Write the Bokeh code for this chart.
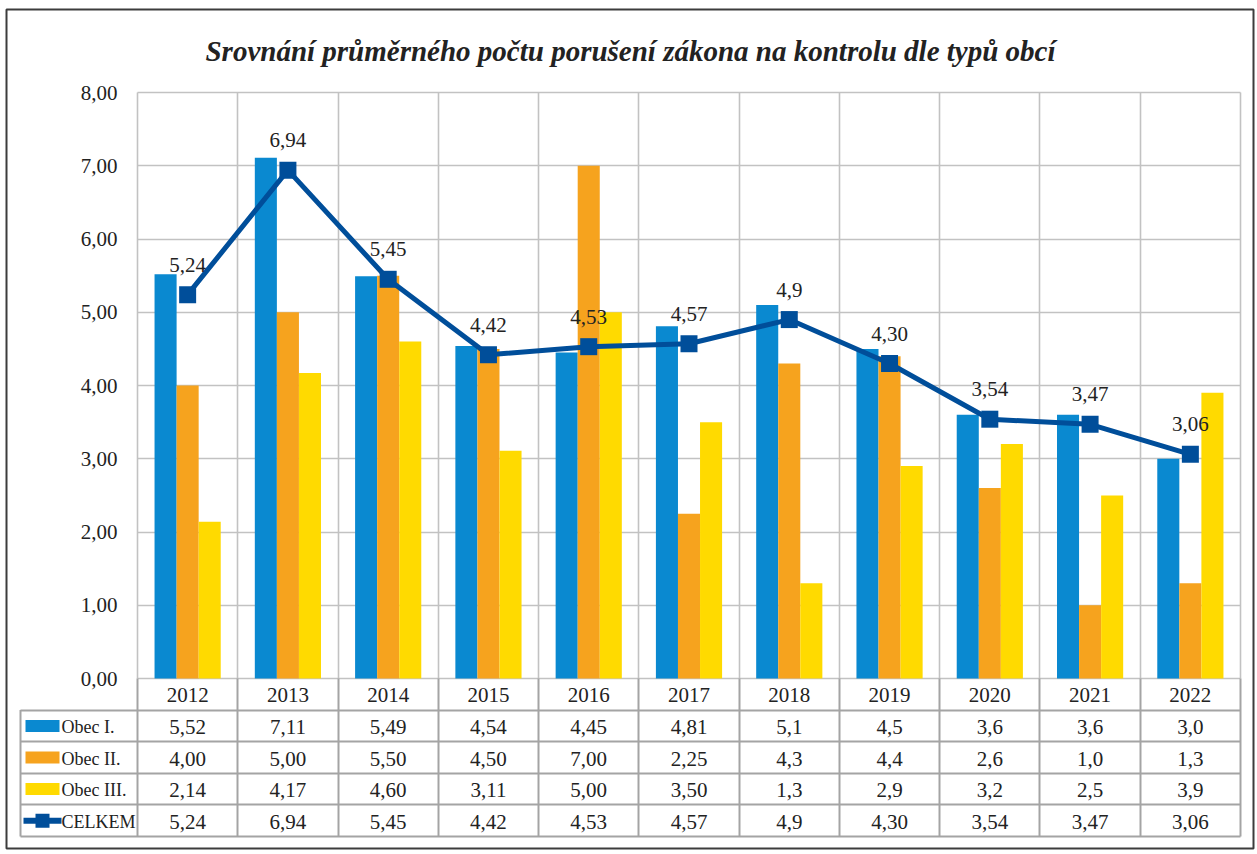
from bokeh.plotting import figure
from bokeh.models import Range1d, FixedTicker, CustomJSTickFormatter, ColumnDataSource, Grid
from bokeh.core.properties import value
from bokeh.transform import dodge
from bokeh.embed import file_html
from bokeh.resources import INLINE

# ---------------- data ----------------
years = ["2012", "2013", "2014", "2015", "2016", "2017", "2018", "2019", "2020", "2021", "2022"]
obec1 = [5.52, 7.11, 5.49, 4.54, 4.45, 4.81, 5.1, 4.5, 3.6, 3.6, 3.0]
obec2 = [4.00, 5.00, 5.50, 4.50, 7.00, 2.25, 4.3, 4.4, 2.6, 1.0, 1.3]
obec3 = [2.14, 4.17, 4.60, 3.11, 5.00, 3.50, 1.3, 2.9, 3.2, 2.5, 3.9]
celkem = [5.24, 6.94, 5.45, 4.42, 4.53, 4.57, 4.9, 4.30, 3.54, 3.47, 3.06]

obec1_txt = ["5,52", "7,11", "5,49", "4,54", "4,45", "4,81", "5,1", "4,5", "3,6", "3,6", "3,0"]
obec2_txt = ["4,00", "5,00", "5,50", "4,50", "7,00", "2,25", "4,3", "4,4", "2,6", "1,0", "1,3"]
obec3_txt = ["2,14", "4,17", "4,60", "3,11", "5,00", "3,50", "1,3", "2,9", "3,2", "2,5", "3,9"]
celkem_txt = ["5,24", "6,94", "5,45", "4,42", "4,53", "4,57", "4,9", "4,30", "3,54", "3,47", "3,06"]

series_names = ["Obec I.", "Obec II.", "Obec III.", "CELKEM"]
y_ticks = [0, 1, 2, 3, 4, 5, 6, 7, 8]
title_text = "Srovnání průměrného počtu porušení zákona na kontrolu dle typů obcí"

# ---------------- style / layout (page pixels) ----------------
C1, C2, C3, CL = "#0A89D0", "#F6A31E", "#FFDA00", "#004E9A"
FONT = "Liberation Serif"
TXT = "#222222"
GRID = "#C2C2C2"
TGRID = "#A4A4A4"

FW, FHT = 1256, 852                           # figure size
BOX_L, BOX_T, BOX_R, BOX_B = 6, 9, 1253, 848  # outer box = plot frame
CH_L, CH_R, CH_T, CH_B = 137, 1240, 92, 678   # chart plot area
TB_L, TB_B = 20, 836                          # table left / bottom
TITLE_X, TITLE_Y = 630, 50

n = len(years)
ymax = y_ticks[-1]
ux = (CH_R - CH_L) / n
uy = (CH_B - CH_T) / ymax


def dx(px):
    return (px - CH_L) / ux


def dy(py):
    return (CH_B - py) / uy


rows = len(series_names) + 1
rowh = (TB_B - CH_B) / rows / uy
LEG = (CH_L - TB_L) / ux

xs = [i + 0.5 for i in range(n)]
BW = 0.22

src = ColumnDataSource(dict(x=xs, o1=obec1, o2=obec2, o3=obec3, c=celkem, ct=celkem_txt))

p = figure(width=FW, height=FHT, output_backend="svg", toolbar_location=None,
           x_range=Range1d(dx(BOX_L), dx(BOX_R)), y_range=Range1d(dy(BOX_B), dy(BOX_T)),
           x_axis_location=None,
           min_border_left=BOX_L, min_border_top=BOX_T,
           min_border_right=FW - BOX_R, min_border_bottom=FHT - BOX_B,
           outline_line_color="#3C3C3C", outline_line_width=2,
           background_fill_color="white", border_fill_color="white")
p.xgrid.visible = False
p.ygrid.visible = False

# y axis placed at the chart's left edge
yax = p.yaxis[0]
yax.fixed_location = 0
yax.bounds = (0, ymax)
yax.ticker = FixedTicker(ticks=y_ticks)
yax.formatter = CustomJSTickFormatter(code="return tick.toFixed(2).replace('.', ',');")
yax.axis_line_color = None
yax.major_tick_line_color = None
yax.minor_tick_line_color = None
yax.major_tick_out = 0
yax.major_tick_in = 0
yax.major_label_standoff = 20
yax.major_label_text_font = FONT
yax.major_label_text_font_size = "21px"
yax.major_label_text_color = TXT

# chart grid
p.add_layout(Grid(dimension=1, ticker=FixedTicker(ticks=y_ticks), cross_bounds=(0, n),
                  grid_line_color=GRID, grid_line_width=1.6))
p.add_layout(Grid(dimension=0, ticker=FixedTicker(ticks=list(range(n + 1))), cross_bounds=(0, ymax),
                  grid_line_color=GRID, grid_line_width=1.6))
# table grid
p.add_layout(Grid(dimension=1, ticker=FixedTicker(ticks=[-k * rowh for k in range(1, rows + 1)]),
                  cross_bounds=(-LEG, n), grid_line_color=TGRID, grid_line_width=2))
p.add_layout(Grid(dimension=0, ticker=FixedTicker(ticks=list(range(n + 1))), cross_bounds=(-rows * rowh, 0),
                  grid_line_color=TGRID, grid_line_width=2))
p.segment(x0=[-LEG], y0=[-rowh], x1=[-LEG], y1=[-rows * rowh], line_color=TGRID, line_width=2)

# title
p.text(x=[dx(TITLE_X)], y=[dy(TITLE_Y)], text=[title_text], text_align="center", text_baseline="middle",
       text_font=value(FONT), text_font_style="bold italic", text_font_size="29px", text_color=TXT)

# bars + line
p.vbar(x=dodge("x", -BW, range=p.x_range), top="o1", width=BW, source=src, fill_color=C1, line_color=None)
p.vbar(x=dodge("x", 0, range=p.x_range), top="o2", width=BW, source=src, fill_color=C2, line_color=None)
p.vbar(x=dodge("x", BW, range=p.x_range), top="o3", width=BW, source=src, fill_color=C3, line_color=None)
p.line(x="x", y="c", source=src, line_color=CL, line_width=5)
p.scatter(x="x", y="c", source=src, marker="square", size=17, fill_color=CL, line_color=None)
p.text(x="x", y="c", text="ct", source=src, y_offset=-30, text_align="center", text_baseline="middle",
       text_font=value(FONT), text_font_size="21px", text_color=TXT)

# table texts
p.text(x=xs, y=[-0.5 * rowh] * n, text=years, text_align="center", text_baseline="middle", y_offset=1,
       text_font=value(FONT), text_font_size="21px", text_color=TXT)
for r, vals in enumerate([obec1_txt, obec2_txt, obec3_txt, celkem_txt], start=1):
    p.text(x=xs, y=[-(r + 0.5) * rowh] * n, text=vals, text_align="center", text_baseline="middle",
           y_offset=1, text_font=value(FONT), text_font_size="21px", text_color=TXT)

# legend column
ry = [-(r + 0.5) * rowh for r in range(1, rows)]
p.rect(x=[dx(42)] * 3, y=ry[:3], width=34 / ux, height=12 / uy, fill_color=[C1, C2, C3], line_color=None)
p.segment(x0=[dx(23)], y0=[ry[3]], x1=[dx(61)], y1=[ry[3]], line_color=CL, line_width=6)
p.scatter(x=[dx(42)], y=[ry[3]], marker="square", size=14, fill_color=CL, line_color=None)
p.text(x=[dx(61)] * 4, y=ry, text=series_names, text_align="left", text_baseline="middle", y_offset=1,
       text_font=value(FONT), text_font_size="18px", text_color=TXT)

open("out.html", "w").write(file_html(p, INLINE))
